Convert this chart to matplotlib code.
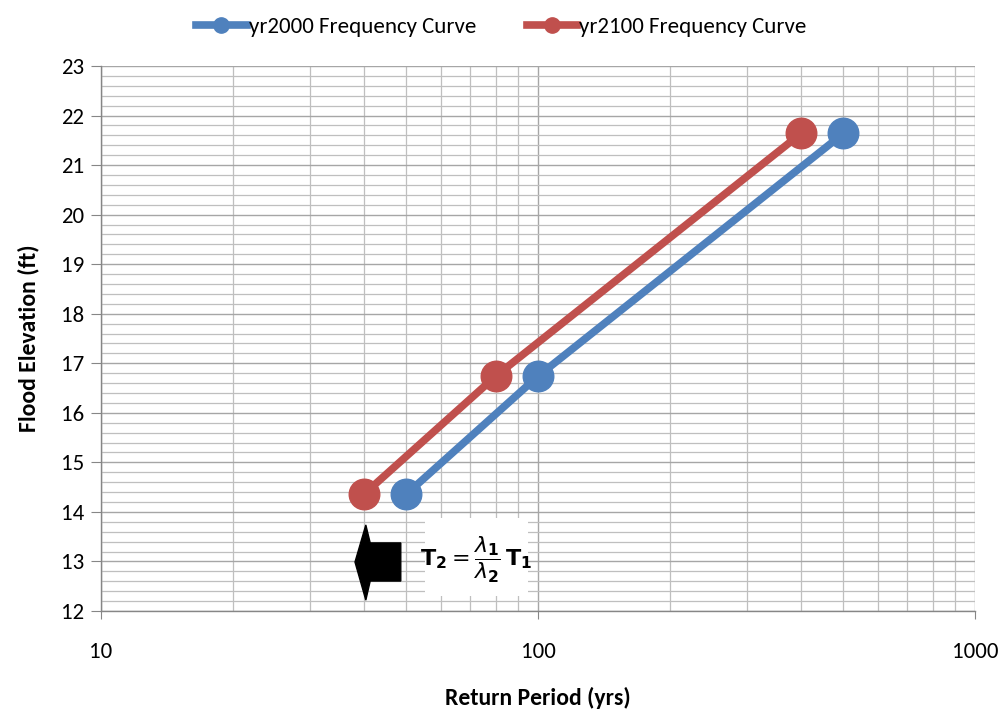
import matplotlib
matplotlib.use("Agg")
import matplotlib.pyplot as plt
from matplotlib.patches import Polygon, Rectangle
from matplotlib.ticker import FixedLocator, NullFormatter, MultipleLocator
import numpy as np

plt.rcParams['font.family'] = ['Carlito', 'Liberation Sans Narrow', 'Liberation Sans', 'DejaVu Sans']
plt.rcParams['mathtext.fontset'] = 'dejavusans'

# datos
periodo_2000 = [50, 100, 500]
periodo_2100 = [40, 80, 400]
elevacion = [14.36, 16.74, 21.64]

azul = '#4F81BD'
rojo = '#C0504D'
gris = '#BFBFBF'

fig = plt.figure(figsize=(10.03, 7.13), dpi=100)
ax = fig.add_axes([0.1007, 0.143, 0.8714, 0.7644])

ax.plot(periodo_2000, elevacion, color=azul, lw=5.5, marker='o', ms=22,
        label='yr2000 Frequency Curve', zorder=3)
ax.plot(periodo_2100, elevacion, color=rojo, lw=5.5, marker='o', ms=22,
        label='yr2100 Frequency Curve', zorder=3)

ax.set_xscale('log')
ax.set_xlim(10, 1000)
ax.set_ylim(12, 23)

ax.xaxis.set_major_locator(FixedLocator([10, 100, 1000]))
ax.xaxis.set_minor_locator(FixedLocator([v * d for d in (10, 100) for v in range(2, 10)]))
ax.xaxis.set_minor_formatter(NullFormatter())
ax.set_xticklabels(['10', '100', '1000'])
ax.yaxis.set_major_locator(MultipleLocator(1))
ax.yaxis.set_minor_locator(MultipleLocator(0.2))

ax.grid(True, which='major', color='#A6A6A6', lw=1.0, zorder=0)
ax.grid(True, which='minor', color=gris, lw=0.9, zorder=0)
ax.set_axisbelow(True)

for lado in ['top', 'right']:
    ax.spines[lado].set_visible(False)
for lado in ['left', 'bottom']:
    ax.spines[lado].set_color('#868686')
    ax.spines[lado].set_linewidth(1.0)

ax.tick_params(axis='y', which='major', length=7, color='#868686', labelsize=16.5, pad=5)
ax.tick_params(axis='y', which='minor', length=0)
ax.tick_params(axis='x', which='major', length=6, color='#868686', labelsize=16.5, pad=16)
ax.tick_params(axis='x', which='minor', length=0)

ax.set_xlabel('Return Period (yrs)', fontsize=17, fontweight='bold', labelpad=18)
ax.set_ylabel('Flood Elevation (ft)', fontsize=17, fontweight='bold', labelpad=16)

# flecha negra hacia la izquierda
flecha = Polygon([(0.2906, 0.0899), (0.303, 0.158), (0.308, 0.125), (0.343, 0.125),
                  (0.343, 0.055), (0.308, 0.055), (0.303, 0.020)],
                 closed=True, transform=ax.transAxes, color='black', zorder=4)
ax.add_patch(flecha)

# caja con la ecuacion
ax.add_patch(Rectangle((0.371, 0.028), 0.117, 0.143, transform=ax.transAxes,
                       facecolor='white', edgecolor='none', zorder=4))
ax.text(0.4291, 0.0936,
        r'$\mathbf{T}_\mathbf{2} = \dfrac{\lambda_\mathbf{1}}{\lambda_\mathbf{2}}\,\mathbf{T}_\mathbf{1}$',
        transform=ax.transAxes, ha='center', va='center', fontsize=16, zorder=5)

fig.legend(loc='upper center', bbox_to_anchor=(0.5, 1.005), ncol=2, frameon=False,
           fontsize=16.5, markerscale=0.5, handlelength=2.2, columnspacing=2.2,
           handletextpad=0.1)

fig.savefig('out.png', dpi=100)
